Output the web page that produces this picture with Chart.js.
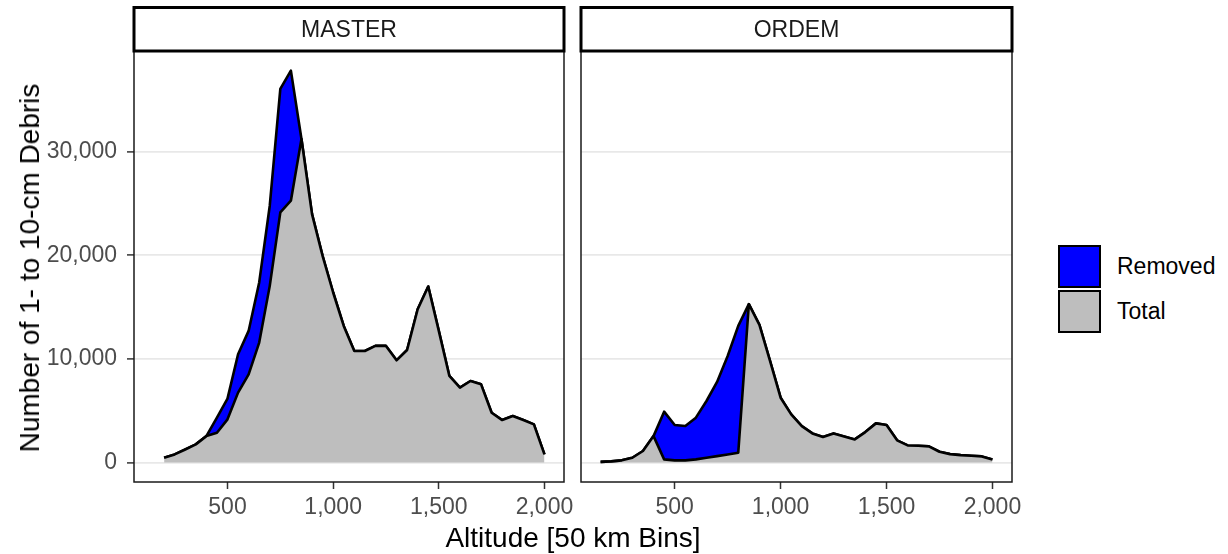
<!DOCTYPE html>
<html lang="en">
  <head>
    <meta charset="UTF-8" />
    <title>Debris by altitude - MASTER vs ORDEM</title>
    <script src="https://cdn.jsdelivr.net/npm/chart.js"></script>
    <style>
      body {
        margin: 0;
        background: #fff;
        font-family: "Liberation Sans", Arial, Helvetica, sans-serif;
      }
      .stage {
        position: relative;
        width: 1228px;
        height: 554px;
        overflow: hidden;
      }
      canvas {
        position: absolute;
        top: 0;
      }
      .y-title {
        position: absolute;
        left: 30px;
        top: 268px;
        transform: translate(-50%, -50%) rotate(-90deg);
        font-size: 28px;
        white-space: nowrap;
        color: #000;
      }
      .x-title {
        position: absolute;
        left: 573px;
        top: 538px;
        transform: translate(-50%, -50%);
        font-size: 28px;
        white-space: nowrap;
        color: #000;
      }
      .legend {
        position: absolute;
        left: 1058px;
        top: 244px;
      }
      .legend-row {
        display: flex;
        align-items: center;
        height: 45px;
      }
      .legend-key {
        width: 39px;
        height: 39px;
        border: 2.5px solid #000;
      }
      .legend-row span {
        margin-left: 16px;
        font-size: 23px;
        color: #000;
      }
    </style>
  </head>
  <body>
    <div class="stage">
      <canvas id="masterChart" width="580" height="554" style="left: 0"></canvas>
      <canvas id="ordemChart" width="480" height="554" style="left: 560px"></canvas>
      <div class="y-title">Number of 1- to 10-cm Debris</div>
      <div class="x-title">Altitude [50 km Bins]</div>
      <div class="legend" id="legend"></div>
    </div>

    <script>
      // altitude bins (km)
      const masterAlt = [
        200, 250, 300, 350, 400, 450, 500, 550, 600, 650, 700, 750, 800, 850,
        900, 950, 1000, 1050, 1100, 1150, 1200, 1250, 1300, 1350, 1400, 1450,
        1500, 1550, 1600, 1650, 1700, 1750, 1800, 1850, 1900, 1950, 2000,
      ];
      const masterTotal = [
        450, 770, 1250, 1740, 2540, 2870, 4160, 6740, 8510, 11570, 17050,
        24150, 25270, 31230, 23980, 19950, 16410, 13180, 10760, 10760, 11250,
        11250, 9860, 10860, 14790, 16990, 12700, 8350, 7220, 7860, 7540, 4800,
        4090, 4480, 4090, 3670, 770,
      ];
      const masterRemoved = [
        0, 0, 0, 0, 0, 1450, 2000, 3700, 4190, 5810, 7740, 11920, 12570, 0, 0,
        0, 0, 0, 0, 0, 0, 0, 0, 0, 0, 0, 0, 0, 0, 0, 0, 0, 0, 0, 0, 0, 0,
      ];

      const ordemAlt = [
        150, 200, 250, 300, 350, 400, 450, 500, 550, 600, 650, 700, 750, 800,
        850, 900, 950, 1000, 1050, 1100, 1150, 1200, 1250, 1300, 1350, 1400,
        1450, 1500, 1550, 1600, 1650, 1700, 1750, 1800, 1850, 1900, 1950, 2000,
      ];
      const ordemTotal = [
        50, 100, 200, 450, 1100, 2540, 290, 200, 200, 290, 450, 610, 770, 940,
        15280, 13280, 9800, 6250, 4640, 3510, 2800, 2450, 2800, 2500, 2220,
        2930, 3770, 3610, 2130, 1640, 1610, 1550, 1030, 800, 700, 640, 580, 290,
      ];
      const ordemRemoved = [
        0, 0, 0, 0, 0, 0, 4610, 3410, 3310, 4030, 5480, 7160, 9510, 12240, 0,
        0, 0, 0, 0, 0, 0, 0, 0, 0, 0, 0, 0, 0, 0, 0, 0, 0, 0, 0, 0, 0, 0, 0,
      ];

      const xTicks = [500, 1000, 1500, 2000];
      const yTicks = [0, 10000, 20000, 30000];

      const seriesNames = ["Removed", "Total"];
      const seriesColors = { Removed: "#0000ff", Total: "#bebebe" };

      // shared scale ranges (ggplot style 5% expansion)
      const allAlt = masterAlt.concat(ordemAlt);
      const altMin = Math.min(...allAlt);
      const altMax = Math.max(...allAlt);
      const altPad = (altMax - altMin) * 0.05;
      const stackMax = Math.max(
        ...masterTotal.map((v, i) => v + masterRemoved[i]),
        ...ordemTotal.map((v, i) => v + ordemRemoved[i])
      );

      const fontFamily = "'Liberation Sans', Arial, Helvetica, sans-serif";
      Chart.defaults.font.family = fontFamily;
      Chart.defaults.animation = false;

      const toPoints = (xs, ys) => xs.map((x, i) => ({ x: x, y: ys[i] }));

      // panel border + facet strip
      const panelFrame = {
        id: "panelFrame",
        afterDraw(chart, args, opts) {
          const { ctx, chartArea: a } = chart;
          ctx.save();
          ctx.strokeStyle = "#1a1a1a";
          ctx.lineWidth = 1.5;
          ctx.strokeRect(a.left, a.top, a.right - a.left, a.bottom - a.top);

          const stripTop = 7.5;
          ctx.fillStyle = "#fff";
          ctx.fillRect(a.left, stripTop, a.right - a.left, a.top - stripTop);
          ctx.strokeStyle = "#000";
          ctx.lineWidth = 3;
          ctx.strokeRect(a.left, stripTop, a.right - a.left, a.top - stripTop);

          ctx.fillStyle = "#1a1a1a";
          ctx.font = "23px " + fontFamily;
          ctx.textAlign = "center";
          ctx.textBaseline = "middle";
          ctx.fillText(opts.label, (a.left + a.right) / 2, (stripTop + a.top) / 2 + 1);
          ctx.restore();
        },
      };

      function makePanel(canvasId, label, alt, total, removed, showY, pad) {
        return new Chart(document.getElementById(canvasId), {
          type: "line",
          data: {
            datasets: [
              {
                label: "Total",
                data: toPoints(alt, total),
                backgroundColor: seriesColors.Total,
                borderColor: "#000",
                borderWidth: 2.6,
                borderJoinStyle: "round",
                pointRadius: 0,
                fill: "origin",
              },
              {
                label: "Removed",
                data: toPoints(alt, removed),
                backgroundColor: seriesColors.Removed,
                borderColor: "#000",
                borderWidth: 2.6,
                borderJoinStyle: "round",
                pointRadius: 0,
                fill: "-1",
              },
            ],
          },
          options: {
            responsive: false,
            layout: { padding: pad },
            plugins: {
              legend: { display: false },
              tooltip: { enabled: false },
              panelFrame: { label: label },
            },
            scales: {
              x: {
                type: "linear",
                min: altMin - altPad,
                max: altMax + altPad,
                afterBuildTicks: (scale) => {
                  scale.ticks = xTicks.map((v) => ({ value: v }));
                },
                afterFit: (scale) => {
                  scale.height = 72;
                },
                grid: {
                  drawOnChartArea: false,
                  tickColor: "#333",
                  tickLength: 7,
                  tickWidth: 1.5,
                },
                border: { display: false },
                ticks: {
                  color: "#4d4d4d",
                  font: { size: 23 },
                  padding: 5,
                  maxRotation: 0,
                  callback: (v) => v.toLocaleString("en-US"),
                },
              },
              y: {
                stacked: true,
                min: -0.05 * stackMax,
                max: 1.05 * stackMax,
                afterBuildTicks: (scale) => {
                  scale.ticks = yTicks.map((v) => ({ value: v }));
                },
                afterFit: (scale) => {
                  scale.width = showY ? 134 : 0;
                },
                grid: {
                  color: "#e8e8e8",
                  lineWidth: 1.8,
                  drawTicks: showY,
                  tickColor: "#333",
                  tickLength: 7,
                  tickWidth: 1.5,
                },
                border: { display: false },
                ticks: {
                  display: showY,
                  color: "#4d4d4d",
                  font: { size: 23 },
                  padding: 10,
                  callback: (v) => v.toLocaleString("en-US"),
                },
              },
            },
          },
          plugins: [panelFrame],
        });
      }

      makePanel("masterChart", "MASTER", masterAlt, masterTotal, masterRemoved, true, {
        top: 51,
        right: 16,
        left: 0,
        bottom: 0,
      });
      makePanel("ordemChart", "ORDEM", ordemAlt, ordemTotal, ordemRemoved, false, {
        top: 51,
        right: 28,
        left: 21,
        bottom: 0,
      });

      // legend
      const legend = document.getElementById("legend");
      seriesNames.forEach((name) => {
        const row = document.createElement("div");
        row.className = "legend-row";
        const key = document.createElement("div");
        key.className = "legend-key";
        key.style.background = seriesColors[name];
        const text = document.createElement("span");
        text.textContent = name;
        row.appendChild(key);
        row.appendChild(text);
        legend.appendChild(row);
      });
    </script>
  </body>
</html>
